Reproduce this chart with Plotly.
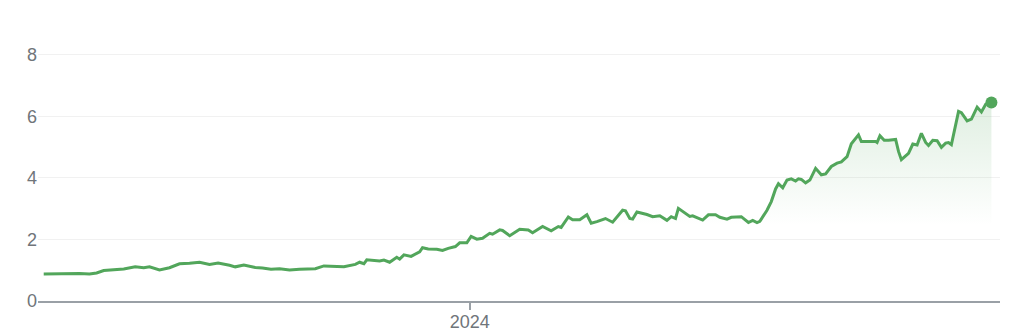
import pandas as pd
import plotly.graph_objects as go

# Day offsets relative to 2024-01-01 and the price read at each of them
day_offsets = [
    -298, -290, -284, -273, -266, -261, -256, -248, -242, -234, -228, -224, -217, -210,
    -203, -196, -189, -182, -176, -168, -164, -158, -150, -145, -139, -133, -126, -119,
    -114, -108, -102, -94, -88, -80, -77, -74, -72, -63, -60, -56, -51, -49, -46, -41,
    -35, -33, -29, -23, -19, -15, -10, -7, -2, 1, 5, 9, 14, 16, 21, 23, 28, 35, 41, 44,
    51, 57, 62, 64, 69, 72, 77, 82, 85, 89, 92, 95, 100, 107, 109, 112, 114, 117, 124,
    128, 133, 138, 141, 144, 146, 154, 156, 163, 167, 172, 175, 180, 183, 190, 195, 198,
    201, 203, 208, 211, 214, 216, 219, 222, 225, 228, 230, 232, 235, 238, 242, 246, 249,
    253, 257, 260, 264, 267, 272, 274, 280, 284, 285, 287, 290, 293, 298, 300, 302, 307,
    310, 313, 316, 319, 321, 324, 327, 330, 333, 335, 337, 342, 344, 348, 351, 355, 358,
    361, 365,
]
prices = [
    0.88, 0.89, 0.90, 0.89, 0.88, 0.91, 0.99, 1.02, 1.04, 1.11, 1.08, 1.11, 1.01, 1.08,
    1.21, 1.23, 1.26, 1.19, 1.23, 1.16, 1.11, 1.17, 1.09, 1.07, 1.03, 1.05, 1.01, 1.03,
    1.04, 1.05, 1.14, 1.13, 1.11, 1.19, 1.26, 1.21, 1.34, 1.30, 1.33, 1.26, 1.42, 1.36,
    1.50, 1.45, 1.60, 1.73, 1.69, 1.68, 1.64, 1.71, 1.77, 1.89, 1.89, 2.10, 2.01, 2.04,
    2.20, 2.17, 2.31, 2.29, 2.12, 2.33, 2.31, 2.22, 2.42, 2.28, 2.42, 2.39, 2.73, 2.64,
    2.64, 2.80, 2.53, 2.58, 2.63, 2.68, 2.56, 2.95, 2.93, 2.68, 2.66, 2.89, 2.81, 2.74,
    2.77, 2.62, 2.74, 2.68, 3.01, 2.75, 2.77, 2.63, 2.80, 2.80, 2.72, 2.66, 2.72, 2.74,
    2.55, 2.62, 2.55, 2.59, 2.95, 3.23, 3.64, 3.81, 3.68, 3.93, 3.97, 3.90, 3.97, 3.95,
    3.84, 3.93, 4.31, 4.10, 4.13, 4.37, 4.48, 4.52, 4.69, 5.11, 5.40, 5.18, 5.18, 5.18,
    5.15, 5.37, 5.22, 5.22, 5.25, 4.86, 4.59, 4.80, 5.10, 5.07, 5.45, 5.15, 5.05, 5.22,
    5.21, 4.99, 5.13, 5.15, 5.08, 6.16, 6.12, 5.85, 5.91, 6.30, 6.14, 6.39, 6.45,
]
y_ticks = [0, 2, 4, 6, 8]
x_tick_dates = ["2024-01-01"]
x_tick_labels = ["2024"]

base = pd.Timestamp("2024-01-01")
dates = [base + pd.Timedelta(days=d) for d in day_offsets]

GREEN = "rgb(82,166,91)"
GRAY_TEXT = "#70757a"
AXIS_GRAY = "#9aa0a6"

fig = go.Figure()
fig.add_trace(go.Scatter(
    x=dates, y=prices, mode="lines",
    line=dict(color=GREEN, width=3),
    fill="tozeroy",
    fillgradient=dict(
        type="vertical", start=0, stop=6.45,
        colorscale=[[0, "rgba(82,166,91,0)"], [0.38, "rgba(82,166,91,0)"],
                    [1, "rgba(82,166,91,0.18)"]],
    ),
    hoverinfo="skip", showlegend=False,
))
fig.add_trace(go.Scatter(
    x=[dates[-1]], y=[prices[-1]], mode="markers",
    marker=dict(color=GREEN, size=12),
    hoverinfo="skip", showlegend=False,
))

fig.update_layout(
    width=1028, height=332,
    margin=dict(l=38, r=28, t=24, b=31),
    paper_bgcolor="white", plot_bgcolor="white",
    font=dict(family="Arial, Liberation Sans, sans-serif", size=18, color=GRAY_TEXT),
    xaxis=dict(
        range=["2023-03-05", "2025-01-06"], automargin=False,
        tickvals=x_tick_dates, ticktext=x_tick_labels,
        showgrid=False, zeroline=False,
        showline=True, linecolor=AXIS_GRAY, linewidth=2,
        ticks="outside", ticklen=7, tickwidth=1.5, tickcolor=AXIS_GRAY,
        ticklabelstandoff=-4,
        tickfont=dict(size=18, color=GRAY_TEXT),
    ),
    yaxis=dict(
        range=[0, 9], tickvals=y_ticks, automargin=False,
        showgrid=True, gridcolor="#f1f1f1", gridwidth=1,
        zeroline=False, showline=False, ticks="",
        tickfont=dict(size=18, color=GRAY_TEXT),
    ),
)

fig.write_html("out.html", config={"displayModeBar": False})
